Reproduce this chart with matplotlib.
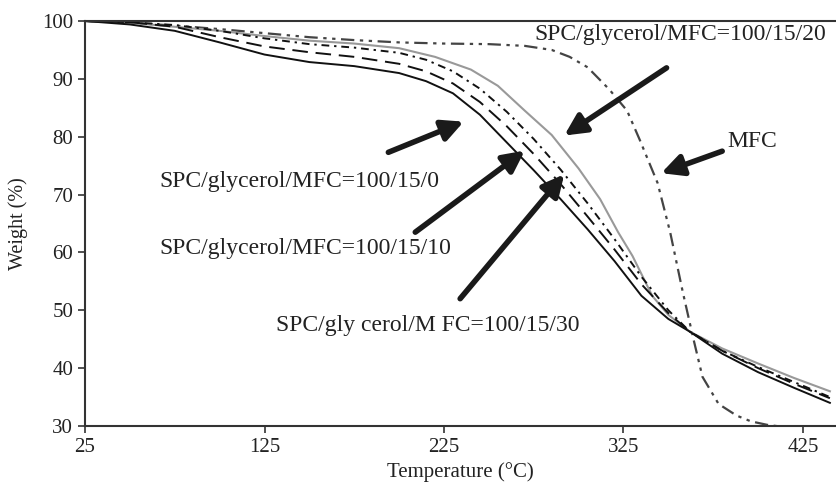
import numpy as np
import matplotlib
matplotlib.use("Agg")
import matplotlib.pyplot as plt

plt.rcParams['font.family'] = ['Liberation Serif', 'DejaVu Serif']

# TGA curves
t_0 = [25, 50, 75, 100, 125, 150, 175, 200, 215, 230, 245, 260, 275, 290, 305, 320, 335, 350, 362, 380, 400, 420, 440]
w_0 = [100, 99.4, 98.3, 96.3, 94.2, 92.9, 92.2, 91.0, 89.6, 87.5, 83.8, 79.0, 74.2, 69.2, 64.0, 58.5, 52.5, 48.5, 46.3, 42.5, 39.3, 36.6, 34.0]

t_10 = [25, 50, 75, 100, 125, 150, 175, 200, 215, 230, 245, 260, 275, 290, 305, 320, 335, 350, 362, 380, 400, 420, 440]
w_10 = [100, 99.8, 99.0, 97.2, 95.6, 94.6, 93.8, 92.6, 91.3, 89.2, 86.0, 81.8, 77.0, 71.8, 66.2, 60.5, 54.5, 49.5, 46.3, 43.0, 40.0, 37.3, 34.8]

t_30 = [25, 50, 75, 100, 125, 150, 175, 200, 215, 230, 245, 260, 275, 290, 305, 320, 335, 350, 362, 380, 400, 420, 440]
w_30 = [100, 99.8, 99.3, 98.3, 97.0, 96.0, 95.4, 94.5, 93.3, 91.3, 88.3, 84.3, 79.6, 74.3, 68.5, 62.3, 55.8, 50.0, 46.3, 43.0, 40.2, 37.6, 35.0]

t_20 = [25, 50, 75, 100, 125, 150, 175, 200, 220, 240, 255, 270, 285, 300, 312, 322, 330, 341, 350, 362, 380, 400, 420, 440]
w_20 = [100, 99.7, 99.0, 98.3, 97.4, 96.6, 96.1, 95.3, 93.8, 91.6, 88.8, 84.5, 80.3, 74.5, 69.2, 63.5, 59.4, 52.5, 49.2, 46.3, 43.4, 40.8, 38.3, 36.0]

t_mfc = [25, 50, 75, 100, 125, 150, 175, 200, 225, 250, 270, 285, 295, 305, 317, 327, 334, 344, 351, 358, 364, 369, 378, 388, 396, 405, 415]
w_mfc = [100, 99.7, 99.2, 98.6, 97.9, 97.2, 96.7, 96.3, 96.1, 96.0, 95.7, 95.0, 93.8, 92.0, 88.2, 84.5, 79.5, 72.0, 63.5, 53.2, 45.0, 38.5, 33.8, 31.8, 30.8, 30.2, 29.8]

# label text, text position, arrow tail, arrow head
labels = ["SPC/glycerol/MFC=100/15/0", "SPC/glycerol/MFC=100/15/10", "SPC/gly cerol/M FC=100/15/30",
          "SPC/glycerol/MFC=100/15/20", "MFC"]
text_pos = [(144.2, 72.3), (147.6, 60.6), (216.1, 47.3), (356.5, 97.6), (396.6, 79.2)]
tails = [(194, 77.3), (209, 63.5), (234, 52.0), (349, 91.9), (380, 77.5)]
heads = [(236, 82.6), (270, 77.6), (292, 73.5), (292, 80.2), (346, 73.7)]

fig = plt.figure(figsize=(8.36, 4.86), dpi=100)
ax = fig.add_axes([0.1017, 0.1235, 0.8983, 0.8333])

ax.plot(t_mfc, w_mfc, color='#444444', lw=1.6, ls=(0, (6, 2.5, 1.5, 2.5, 1.5, 2.5)))
ax.plot(t_20, w_20, color='#999999', lw=1.5)
ax.plot(t_30, w_30, color='#111111', lw=1.4, ls=(0, (4, 2.5, 1.2, 2.5)))
ax.plot(t_10, w_10, color='#111111', lw=1.4, ls=(0, (8, 4)))
ax.plot(t_0, w_0, color='#111111', lw=1.4)

for lab, tp, tl, hd in zip(labels, text_pos, tails, heads):
    ax.text(tp[0], tp[1], lab, fontsize=17, color='#222222', ha='center', va='center')
    ax.annotate('', xy=hd, xytext=tl,
                arrowprops=dict(arrowstyle='-|>', lw=4, color='#1a1a1a', mutation_scale=32, shrinkA=0, shrinkB=0))

ax.set_xlim(25, 443.4)
ax.set_ylim(30, 100)
ax.set_xticks([25, 125, 225, 325, 425])
ax.set_yticks([30, 40, 50, 60, 70, 80, 90, 100])
ax.tick_params(direction='out', length=5, width=1.2, colors='#333333', labelsize=15, labelcolor='#222222')
ax.spines['right'].set_visible(False)
for s in ['left', 'bottom', 'top']:
    ax.spines[s].set_color('#333333')
    ax.spines[s].set_linewidth(1.5)

ax.set_xlabel("Temperature (°C)", fontsize=15, color='#222222', labelpad=4)
ax.set_ylabel("Weight (%)", fontsize=14.5, color='#222222', labelpad=10)

fig.savefig("out.png", dpi=100)
